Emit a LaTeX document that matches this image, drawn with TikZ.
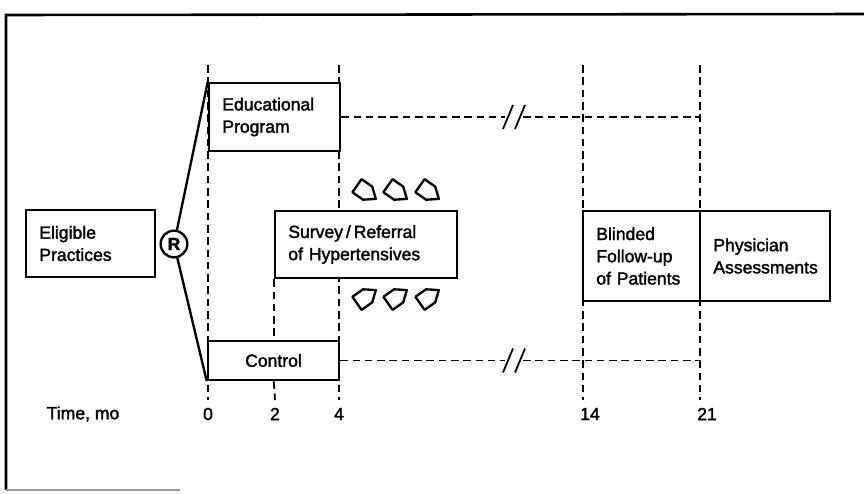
\documentclass[tikz,border=0pt]{standalone}
\usepackage{fontspec}
\setmainfont{Liberation Sans}[FakeBold=1.8]
\tikzset{
  blk/.style={draw, line width=2.1pt, fill=white, align=left, inner xsep=0.4cm, inner ysep=0pt, font=\fontsize{15}{19}\selectfont},
  tline/.style={line width=1.5pt, dash pattern=on 6.5pt off 4pt},
  hollow/.style={line width=2pt, line join=round},
  lbl/.style={font=\fontsize{15}{18}\selectfont}
}
\begin{document}
\begin{tikzpicture}[x=0.03cm,y=-0.03cm]
    \useasboundingbox (0,0) rectangle (864,493);
    % frame
    \draw[line width=2.2pt] (864,14) -- (6,15) -- (6,490);
    \draw[line width=1.5pt, black!40] (6,490) -- (180,490);
    % time lines
    \foreach \x/\n in {208/a,339/b,583/c,700/d}
    \draw[tline] (\x,65) coordinate (T\n) -- (\x,400) coordinate (B\n);
    \coordinate (brkA) at (505,0);
    \coordinate (brkB) at (523,0);
    % boxes
    \node[blk, text width=3.07cm, minimum height=2.01cm] (elig) at (90.5,243.5) {Eligible\\Practices};
    \node[blk, text width=3.13cm, minimum height=2.04cm] (educ) at (274.5,117) {Educational\\Program};
    \node[blk, align=center, minimum width=3.93cm, minimum height=1.17cm] (ctrl) at (273.5,360.5) {Control};
    \node[blk, text width=4.66cm, minimum height=2.01cm] (surv) at (366,244.5) {Survey\,/\,Referral\\of Hypertensives};
    \node[blk, text width=2.71cm, minimum height=2.7cm] (blnd) at (641.5,256) {Blinded\\Follow-up\\of Patients};
    \node[blk, text width=3.1cm, minimum height=2.7cm] (phys) at (765,256) {Physician\\Assessments};
    \node[draw, circle, fill=white, line width=2pt, minimum size=0.8cm, inner sep=0pt, font=\fontsize{15}{15}\selectfont\bfseries] (rand) at (174,244) {R};
    % randomisation
    \draw[line width=2pt] (rand) -- (educ.north west);
    \draw[line width=2pt] (rand) -- (ctrl.south west);
    % 2 mo line
    \draw[tline] (surv.south west) -- (ctrl.north -| surv.south west);
    \draw[tline] (ctrl.south -| surv.south west) -- (275,400);
    % arms to 21 mo
    \foreach \s in {educ,ctrl}{
    \draw[tline] (\s.east) -- (\s.east -| brkA);
    \draw[tline] (\s.east -| brkB) -- (\s.east -| Bd);
    \draw[line width=1.5pt] (\s.east -| brkA) ++(-2,12) -- ++(10,-24);
    \draw[line width=1.5pt] (\s.east -| brkB) ++(-8,12) -- ++(10,-24);
    }
    % survey arrows
    \foreach \x in {366,397,429}{
    \draw[hollow, shift={(\x,192)}, rotate=-35] (-11,-8) -- (2,-8) -- (12,0) -- (2,8) -- (-11,8) -- cycle;
    \draw[hollow, shift={(\x,297)}, rotate=35] (-11,-8) -- (2,-8) -- (12,0) -- (2,8) -- (-11,8) -- cycle;
    }
    % time axis
    \node[lbl] (time) at (83,414) {Time, mo};
    \foreach \x/\t in {208/0,275/2,339/4,590/14,707/21}
    \node[lbl] (m\t) at (\x,414) {\t};
\end{tikzpicture}
\end{document}
